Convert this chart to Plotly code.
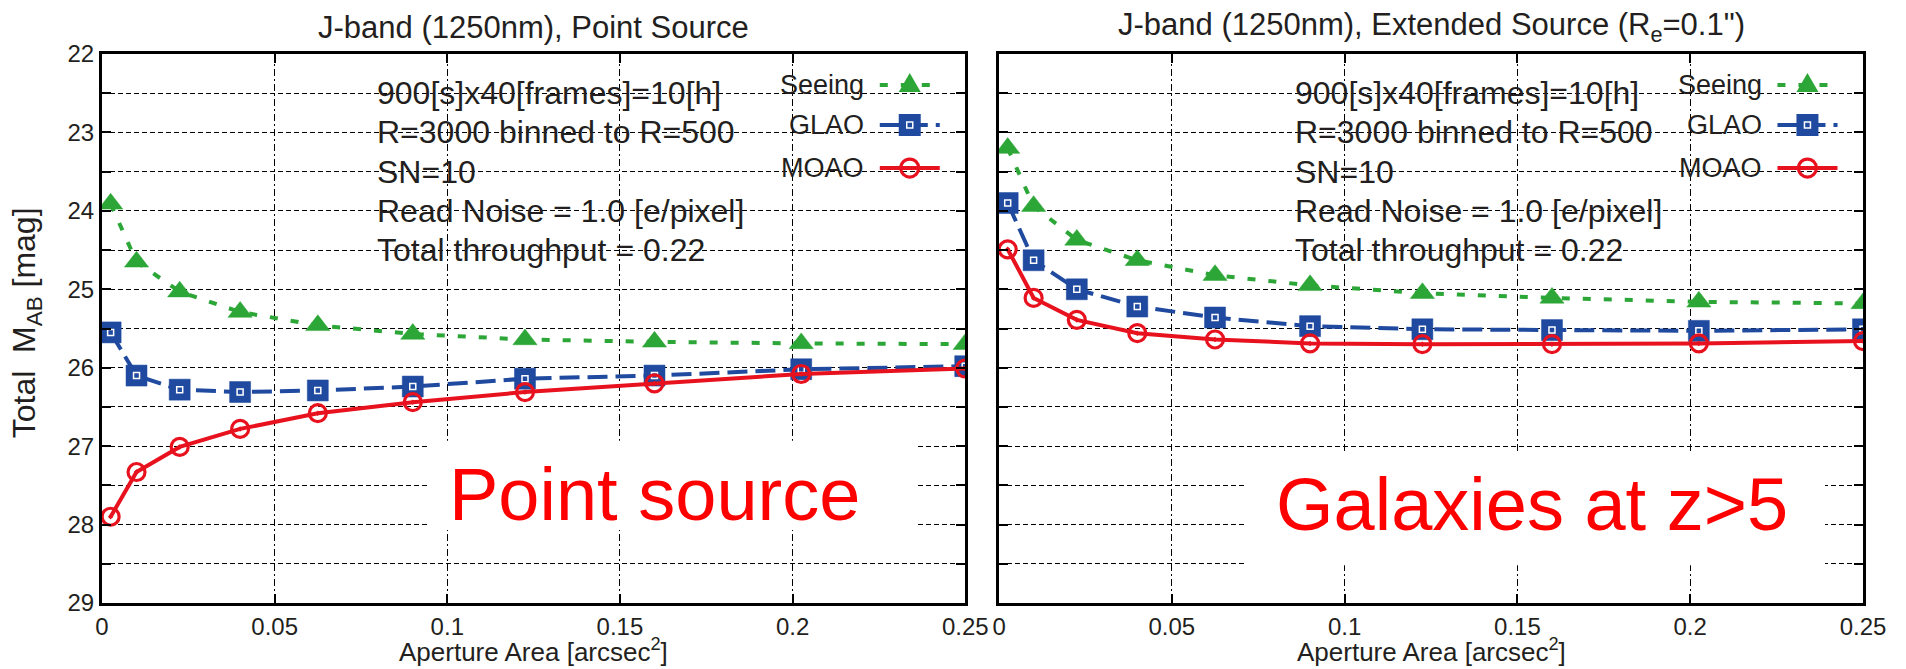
import plotly.graph_objects as go

# ---------------- data ----------------
aperture_area = [0.0025, 0.01, 0.0225, 0.04, 0.0625, 0.09, 0.1225, 0.16, 0.2025, 0.25]

seeing_point = [23.91, 24.65, 25.03, 25.29, 25.46, 25.57, 25.64, 25.67, 25.69, 25.70]
glao_point = [25.55, 26.10, 26.28, 26.31, 26.29, 26.24, 26.14, 26.10, 26.02, 25.98]
moao_point = [27.90, 27.33, 27.01, 26.78, 26.58, 26.44, 26.31, 26.20, 26.08, 26.01]

seeing_ext = [23.20, 23.94, 24.37, 24.63, 24.82, 24.95, 25.05, 25.11, 25.16, 25.18]
glao_ext = [23.90, 24.63, 25.00, 25.22, 25.36, 25.47, 25.51, 25.52, 25.53, 25.51]
moao_ext = [24.49, 25.11, 25.39, 25.56, 25.64, 25.69, 25.70, 25.70, 25.69, 25.66]

series_names = ["Seeing", "GLAO", "MOAO"]
x_tick_vals = [0, 0.05, 0.1, 0.15, 0.2, 0.25]
x_tick_text = ["0", "0.05", "0.1", "0.15", "0.2", "0.25"]
y_tick_vals = [22, 23, 24, 25, 26, 27, 28, 29]
y_tick_text = ["22", "23", "24", "25", "26", "27", "28", "29"]

panel_titles = ["J-band (1250nm), Point Source",
                "J-band (1250nm), Extended Source (R<sub>e</sub>=0.1\")"]
info_lines = ["900[s]x40[frames]=10[h]", "R=3000 binned to R=500", "SN=10",
              "Read Noise = 1.0 [e/pixel]", "Total throughput = 0.22"]
info_line_y = [22.5, 23.0, 23.5, 24.0, 24.5]
big_labels = ["Point source", "Galaxies at z>5"]
x_title = "Aperture Area [arcsec<sup>2</sup>]"
y_title = "Total&nbsp;&nbsp;M<sub>AB</sub> [mag]"

# ---------------- style ----------------
GREEN = "#2ca636"
BLUE = "#1f4a9f"
RED = "#e8121f"
TXT = "#231f20"
FONT = "Liberation Sans, Arial, sans-serif"

styles = {
    "Seeing": dict(color=GREEN, dash="8px,13px", symbol="triangle-up", size=21),
    "GLAO": dict(color=BLUE, dash="20px,8px", symbol="square", size=21),
    "MOAO": dict(color=RED, dash="solid", symbol="circle-open-dot", size=17),
}

panels = [
    ("x", "y", [seeing_point, glao_point, moao_point]),
    ("x2", "y2", [seeing_ext, glao_ext, moao_ext]),
]

fig = go.Figure()
for xa, ya, vals in panels:
    for name, yv in zip(series_names, vals):
        st = styles[name]
        if name == "MOAO":
            marker = dict(symbol=st["symbol"], size=st["size"], color=st["color"],
                          line=dict(color=st["color"], width=3.2))
        else:
            marker = dict(symbol=st["symbol"], size=st["size"], color=st["color"],
                          line=dict(color=st["color"], width=0.5))
        fig.add_trace(go.Scatter(
            x=aperture_area, y=yv, xaxis=xa, yaxis=ya, name=name,
            mode="lines+markers",
            line=dict(color=st["color"], width=4, dash=st["dash"]),
            marker=marker, showlegend=False))
        if name == "GLAO":
            fig.add_trace(go.Scatter(
                x=aperture_area, y=yv, xaxis=xa, yaxis=ya, mode="markers",
                marker=dict(symbol="square-open", size=6, color="white",
                            line=dict(color="white", width=1.5)),
                showlegend=False, hoverinfo="skip"))

axis_common = dict(
    showline=True, linewidth=3, linecolor="black", mirror="ticks",
    ticks="inside", ticklen=9, tickwidth=2, tickcolor="black",
    showgrid=True, gridcolor="black", gridwidth=1.2, zeroline=False,
    tickfont=dict(family=FONT, size=24, color=TXT),
)
y_minor = dict(dtick=0.5, tick0=22, ticks="inside", ticklen=9, tickwidth=2,
               tickcolor="black", showgrid=True, gridcolor="black", gridwidth=1.2,
               griddash="5px,3px")

fig.update_layout(
    width=1906, height=669,
    margin=dict(l=102, r=43, t=54, b=66),
    paper_bgcolor="white", plot_bgcolor="white",
    showlegend=False,
    xaxis=dict(domain=[0, 0.4902], range=[0, 0.25], tickvals=x_tick_vals,
               ticktext=x_tick_text, griddash="7px,3px,2px,3px", anchor="y",
               **axis_common),
    xaxis2=dict(domain=[0.5094, 1], range=[0, 0.25], tickvals=x_tick_vals,
                ticktext=x_tick_text, griddash="7px,3px,2px,3px", anchor="y2",
                **axis_common),
    yaxis=dict(range=[29, 22], tickvals=y_tick_vals, ticktext=y_tick_text,
               griddash="5px,3px", anchor="x", minor=y_minor, **axis_common),
    yaxis2=dict(range=[29, 22], tickvals=y_tick_vals, ticktext=y_tick_text,
                showticklabels=False, griddash="5px,3px", anchor="x2",
                minor=y_minor, **axis_common),
)

annotations = []
shapes = []

# panel titles and axis titles
for i, (xa, ya) in enumerate([("x", "y"), ("x2", "y2")]):
    annotations.append(dict(text=panel_titles[i], xref=f"{xa} domain", yref="paper",
                            x=0.5, y=1.049, xanchor="center", yanchor="middle",
                            showarrow=False, font=dict(family=FONT, size=31, color=TXT)))
    annotations.append(dict(text=x_title, xref=f"{xa} domain", yref="paper",
                            x=0.5, y=-0.086, xanchor="center", yanchor="middle",
                            showarrow=False, font=dict(family=FONT, size=26, color=TXT)))

annotations.append(dict(text=y_title, xref="paper", yref="paper", x=-0.043, y=0.51,
                        xanchor="center", yanchor="middle", textangle=-90,
                        showarrow=False, font=dict(family=FONT, size=32, color=TXT)))

# info text block
info_x = {"x": 0.079, "x2": 0.085}
for xa, ya in [("x", "y"), ("x2", "y2")]:
    for line, yv in zip(info_lines, info_line_y):
        annotations.append(dict(text=line, xref=xa, yref=ya, x=info_x[xa], y=yv,
                                xanchor="left", yanchor="middle", showarrow=False,
                                font=dict(family=FONT, size=32, color=TXT)))

# white boxes behind big red labels
boxes = {"x": (0.0946, 0.2356, 26.93, 28.07), "x2": (0.0714, 0.239, 27.1, 28.52)}
label_pos = {"x": (0.160, 27.62), "x2": (0.1542, 27.74)}
for i, (xa, ya) in enumerate([("x", "y"), ("x2", "y2")]):
    x0, x1, y0, y1 = boxes[xa]
    shapes.append(dict(type="rect", xref=xa, yref=ya, x0=x0, x1=x1, y0=y0, y1=y1,
                       fillcolor="white", line=dict(width=0), layer="above"))
    lx, ly = label_pos[xa]
    annotations.append(dict(text=big_labels[i], xref=xa, yref=ya, x=lx, y=ly,
                            xanchor="center", yanchor="middle", showarrow=False,
                            font=dict(family=FONT, size=74, color="#ff0000")))

# manual legends (text left, sample right)
leg_y = [0.9435, 0.8707, 0.7923]
for xa, ya in [("x", "y"), ("x2", "y2")]:
    xr, yr = f"{xa} domain", f"{ya} domain"
    for name, ly in zip(series_names, leg_y):
        st = styles[name]
        annotations.append(dict(text=name, xref=xr, yref=yr, x=0.8855, y=ly,
                                xanchor="right", yanchor="middle", showarrow=False,
                                font=dict(family=FONT, size=27, color=TXT)))
        shapes.append(dict(type="line", xref=xr, yref=yr, x0=0.901, x1=0.9705,
                           y0=ly, y1=ly, layer="above",
                           line=dict(color=st["color"], width=4, dash=st["dash"])))
        common = dict(xref=xr, yref=yr, xsizemode="pixel", ysizemode="pixel",
                      xanchor=0.9357, yanchor=ly, layer="above")
        if name == "Seeing":
            shapes.append(dict(type="path", path="M-11,-7 L11,-7 L0,12 Z",
                               fillcolor=st["color"], line=dict(width=0), **common))
        elif name == "GLAO":
            shapes.append(dict(type="rect", x0=-11, x1=11, y0=-11, y1=11,
                               fillcolor=st["color"], line=dict(width=0), **common))
            shapes.append(dict(type="rect", x0=-3, x1=3, y0=-3, y1=3,
                               fillcolor=st["color"], line=dict(color="white", width=1.5),
                               **common))
        else:
            shapes.append(dict(type="circle", x0=-9, x1=9, y0=-9, y1=9,
                               line=dict(color=st["color"], width=3.2), **common))

fig.update_layout(annotations=annotations, shapes=shapes)
fig.write_html("out.html")
